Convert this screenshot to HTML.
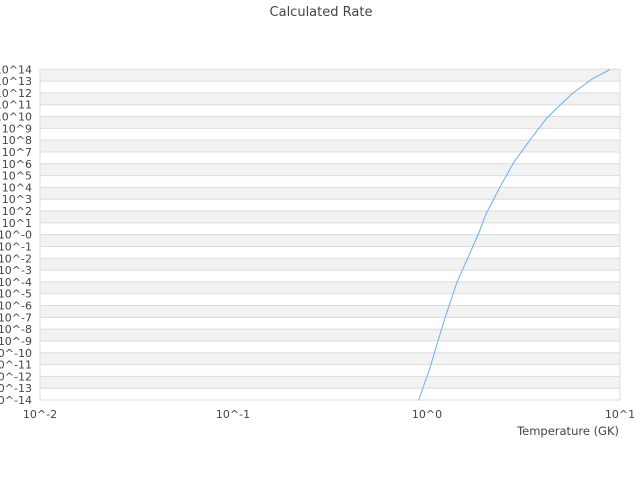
<!DOCTYPE html>
<html><head><meta charset="utf-8"><style>body{margin:0;background:#fff}svg{display:block}</style></head>
<body>
<svg width="640" height="480" xmlns="http://www.w3.org/2000/svg" font-family="DejaVu Sans, Liberation Sans, sans-serif">
<rect width="640" height="480" fill="#fff"/>
<text x="321" y="16" text-anchor="middle" font-size="13" fill="#444">Calculated Rate</text>
<g fill="#f2f2f2">
<rect x="40" y="69.3" width="580" height="11.81"/>
<rect x="40" y="92.92" width="580" height="11.81"/>
<rect x="40" y="116.54" width="580" height="11.81"/>
<rect x="40" y="140.17" width="580" height="11.81"/>
<rect x="40" y="163.79" width="580" height="11.81"/>
<rect x="40" y="187.41" width="580" height="11.81"/>
<rect x="40" y="211.03" width="580" height="11.81"/>
<rect x="40" y="234.65" width="580" height="11.81"/>
<rect x="40" y="258.28" width="580" height="11.81"/>
<rect x="40" y="281.9" width="580" height="11.81"/>
<rect x="40" y="305.52" width="580" height="11.81"/>
<rect x="40" y="329.14" width="580" height="11.81"/>
<rect x="40" y="352.76" width="580" height="11.81"/>
<rect x="40" y="376.39" width="580" height="11.81"/>
</g>
<g stroke="#dcdcdc" stroke-width="1">
<line x1="40" x2="620" y1="69.3" y2="69.3"/><line x1="40" x2="620" y1="81.11" y2="81.11"/><line x1="40" x2="620" y1="92.92" y2="92.92"/><line x1="40" x2="620" y1="104.73" y2="104.73"/><line x1="40" x2="620" y1="116.54" y2="116.54"/><line x1="40" x2="620" y1="128.35" y2="128.35"/><line x1="40" x2="620" y1="140.17" y2="140.17"/><line x1="40" x2="620" y1="151.98" y2="151.98"/><line x1="40" x2="620" y1="163.79" y2="163.79"/><line x1="40" x2="620" y1="175.6" y2="175.6"/><line x1="40" x2="620" y1="187.41" y2="187.41"/><line x1="40" x2="620" y1="199.22" y2="199.22"/><line x1="40" x2="620" y1="211.03" y2="211.03"/><line x1="40" x2="620" y1="222.84" y2="222.84"/><line x1="40" x2="620" y1="234.65" y2="234.65"/><line x1="40" x2="620" y1="246.47" y2="246.47"/><line x1="40" x2="620" y1="258.28" y2="258.28"/><line x1="40" x2="620" y1="270.09" y2="270.09"/><line x1="40" x2="620" y1="281.9" y2="281.9"/><line x1="40" x2="620" y1="293.71" y2="293.71"/><line x1="40" x2="620" y1="305.52" y2="305.52"/><line x1="40" x2="620" y1="317.33" y2="317.33"/><line x1="40" x2="620" y1="329.14" y2="329.14"/><line x1="40" x2="620" y1="340.95" y2="340.95"/><line x1="40" x2="620" y1="352.76" y2="352.76"/><line x1="40" x2="620" y1="364.58" y2="364.58"/><line x1="40" x2="620" y1="376.39" y2="376.39"/><line x1="40" x2="620" y1="388.2" y2="388.2"/><line x1="40" x2="620" y1="400" y2="400"/>
<line x1="40" y1="69" x2="40" y2="400"/><line x1="620" y1="69" x2="620" y2="400"/>
</g>
<g font-size="11" fill="#444" text-anchor="end">
<text x="32" y="73.3">10^14</text><text x="32" y="85.1">10^13</text><text x="32" y="96.9">10^12</text><text x="32" y="108.7">10^11</text><text x="32" y="120.5">10^10</text><text x="32" y="132.4">10^9</text><text x="32" y="144.2">10^8</text><text x="32" y="156">10^7</text><text x="32" y="167.8">10^6</text><text x="32" y="179.6">10^5</text><text x="32" y="191.4">10^4</text><text x="32" y="203.2">10^3</text><text x="32" y="215">10^2</text><text x="32" y="226.8">10^1</text><text x="32" y="238.7">10^-0</text><text x="32" y="250.5">10^-1</text><text x="32" y="262.3">10^-2</text><text x="32" y="274.1">10^-3</text><text x="32" y="285.9">10^-4</text><text x="32" y="297.7">10^-5</text><text x="32" y="309.5">10^-6</text><text x="32" y="321.3">10^-7</text><text x="32" y="333.1">10^-8</text><text x="32" y="345">10^-9</text><text x="32" y="356.8">10^-10</text><text x="32" y="368.6">10^-11</text><text x="32" y="380.4">10^-12</text><text x="32" y="392.2">10^-13</text><text x="32" y="404">10^-14</text>
</g>
<g font-size="11" fill="#444" text-anchor="middle">
<text x="40" y="418">10^-2</text>
<text x="233" y="418">10^-1</text>
<text x="427" y="418">10^0</text>
<text x="620" y="418">10^1</text>
</g>
<text x="619" y="435" text-anchor="end" font-size="11.5" fill="#444">Temperature (GK)</text>
<polyline fill="none" stroke="#6aaef0" stroke-width="1" points="418.7,400 425,382 430,368 437,344 445,318 457,282 470,253 478,235 486,214 500,187 514,162 530,140 546,119 557,108 573,93 592,79 610,69.5"/>
</svg>
</body></html>
